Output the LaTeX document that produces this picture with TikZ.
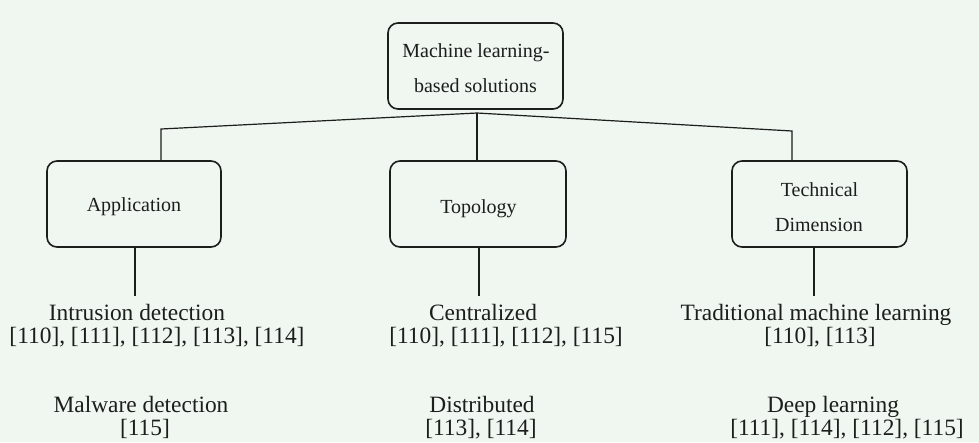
\documentclass[tikz,border=0pt]{standalone}
\usepackage{fontspec}
\setmainfont{Liberation Serif}
\definecolor{bgc}{RGB}{240,246,240}
\definecolor{ink}{RGB}{28,30,28}
\begin{document}
\begin{tikzpicture}[x=1pt,y=-1pt,
  catbox/.style={draw=ink, line width=1.6pt, rounded corners=10pt, inner sep=0pt},
  boxtext/.style={anchor=base, inner sep=0pt, text=ink, font=\fontsize{20}{24}\selectfont},
  leaf/.style={anchor=base, inner sep=0pt, text=ink, font=\fontsize{23.4}{26}\selectfont},
  conn/.style={draw=ink, line width=1.2pt}]
\fill[bgc] (0,0) rectangle (979,442);
\useasboundingbox (0,0) rectangle (979,442);
% boxes
\node[catbox, minimum width=175pt, minimum height=86pt] (root) at (475.5,66) {};
\node[catbox, minimum width=174pt, minimum height=86pt] (app) at (134,204) {};
\node[catbox, minimum width=176pt, minimum height=86pt] (topo) at (478,204) {};
\node[catbox, minimum width=175pt, minimum height=86pt] (tech) at (819.5,204) {};
% box texts
\node[boxtext] (roottxt1) at (476,57) {Machine learning-};
\node[boxtext] (roottxt2) at (475.5,92) {based solutions};
\node[boxtext] (apptxt) at (134,211) {Application};
\node[boxtext] (topotxt) at (478.5,213) {Topology};
\node[boxtext] (techtxt1) at (819.5,196) {Technical};
\node[boxtext] (techtxt2) at (819,231) {Dimension};
% junction coordinates
\coordinate (j) at (477,113);
\coordinate (cl) at (161,129);
\coordinate (cr) at (792,131);
\coordinate (ab) at (135,296);
\coordinate (tb) at (479,296);
\coordinate (eb) at (814,296);
% connectors
\draw[conn] (cl |- app.north) -- (cl) -- (j) -- (cr) -- (cr |- tech.north);
\draw[conn] (j) -- (j |- topo.north);
\draw[conn] (ab |- app.south) -- (ab);
\draw[conn] (tb |- topo.south) -- (tb);
\draw[conn] (eb |- tech.south) -- (eb);
% leaves
\node[leaf] (l1) at (137,320) {Intrusion detection};
\node[leaf] (l1r) at (157,343) {[110], [111], [112], [113], [114]};
\node[leaf] (l2) at (141,412) {Malware detection};
\node[leaf] (l2r) at (145,435) {[115]};
\node[leaf] (l3) at (483,320) {Centralized};
\node[leaf] (l3r) at (506,343) {[110], [111], [112], [115]};
\node[leaf] (l4) at (482,412) {Distributed};
\node[leaf] (l4r) at (481,435) {[113], [114]};
\node[leaf] (l5) at (816,320) {Traditional machine learning};
\node[leaf] (l5r) at (820,343) {[110], [113]};
\node[leaf] (l6) at (833,412) {Deep learning};
\node[leaf] (l6r) at (847,435) {[111], [114], [112], [115]};
\end{tikzpicture}
\end{document}
